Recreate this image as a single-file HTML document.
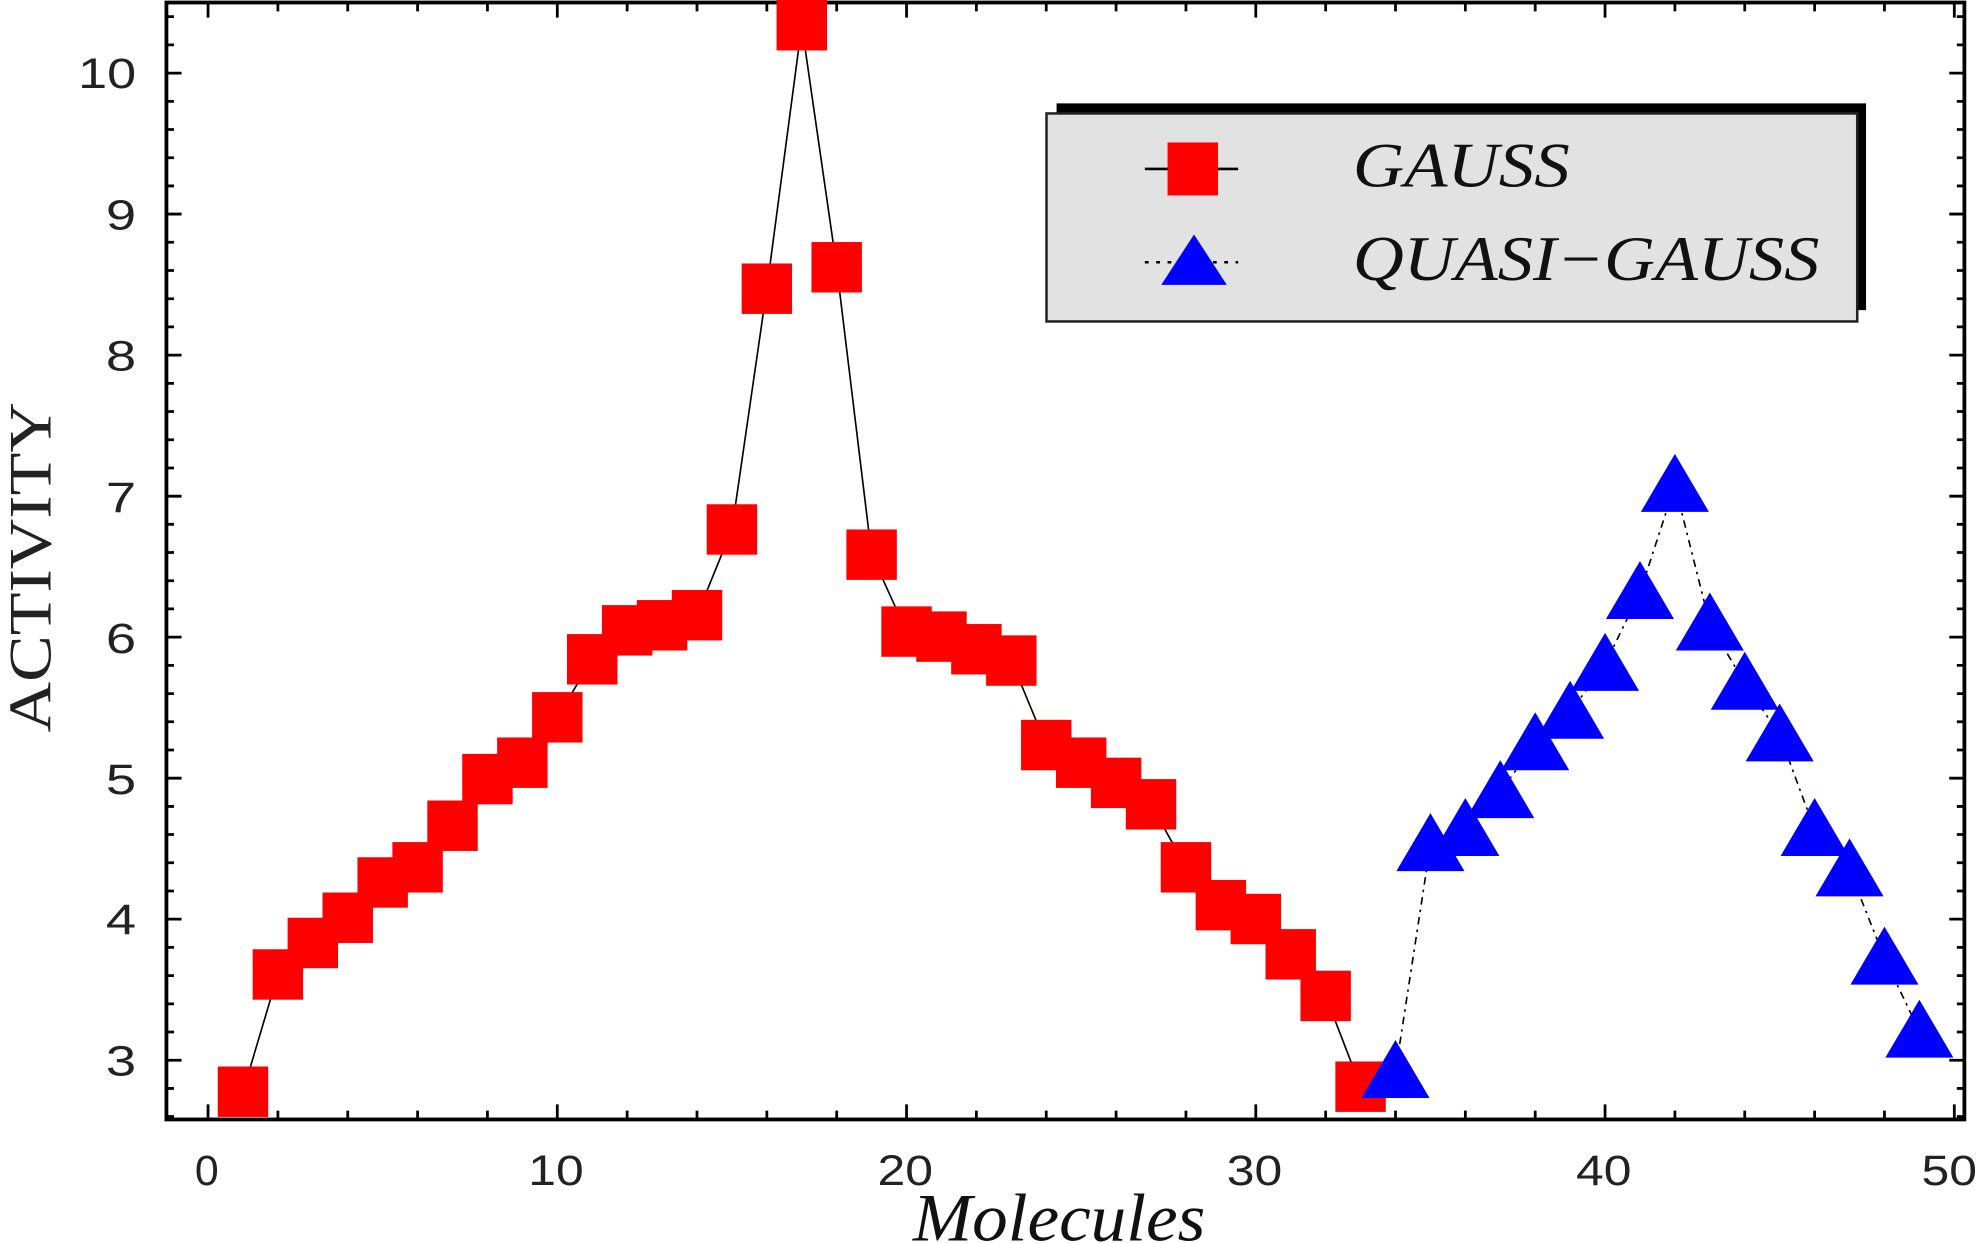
<!DOCTYPE html>
<html><head><meta charset="utf-8"><style>
html,body{margin:0;padding:0;background:#fff;}
svg{display:block}
</style></head><body>
<svg id="s" width="1977" height="1243" viewBox="0 0 1568 986" preserveAspectRatio="none" xmlns="http://www.w3.org/2000/svg">
<g id="ticks" stroke="#000" stroke-width="2.2"></g>
<rect x="132" y="2" width="1426" height="886" fill="none" stroke="#000" stroke-width="3"/>
<g font-family="Liberation Sans, sans-serif" font-size="34" fill="#222" text-anchor="end">
<text x="108" y="853" textLength="24" lengthAdjust="spacingAndGlyphs">3</text>
<text x="108" y="741" textLength="24" lengthAdjust="spacingAndGlyphs">4</text>
<text x="108" y="630" textLength="24" lengthAdjust="spacingAndGlyphs">5</text>
<text x="108" y="518" textLength="24" lengthAdjust="spacingAndGlyphs">6</text>
<text x="108" y="406" textLength="24" lengthAdjust="spacingAndGlyphs">7</text>
<text x="108" y="294" textLength="24" lengthAdjust="spacingAndGlyphs">8</text>
<text x="108" y="182" textLength="24" lengthAdjust="spacingAndGlyphs">9</text>
<text x="108" y="70" textLength="46" lengthAdjust="spacingAndGlyphs">10</text>
</g>
<g font-family="Liberation Sans, sans-serif" font-size="34" fill="#222" text-anchor="middle">
<text x="164" y="940">0</text>
<text x="441" y="940" textLength="44" lengthAdjust="spacingAndGlyphs">10</text>
<text x="718" y="940" textLength="44" lengthAdjust="spacingAndGlyphs">20</text>
<text x="995" y="940" textLength="44" lengthAdjust="spacingAndGlyphs">30</text>
<text x="1272" y="940" textLength="44" lengthAdjust="spacingAndGlyphs">40</text>
<text x="1546" y="940" textLength="44" lengthAdjust="spacingAndGlyphs">50</text>
</g>
<text x="840" y="984" text-anchor="middle" font-family="Liberation Serif, serif" font-style="italic" font-size="54" fill="#111" textLength="232" lengthAdjust="spacingAndGlyphs">Molecules</text>
<text transform="translate(40,450) rotate(-90)" text-anchor="middle" font-family="Liberation Serif, serif" font-size="48" fill="#222" textLength="262" lengthAdjust="spacingAndGlyphs">ACTIVITY</text>
<g id="lines" fill="none" stroke="#000" stroke-width="1.3"></g>
<g id="marks"></g>
<rect x="838" y="82" width="642" height="164" fill="#000"/>
<rect x="830" y="90" width="643" height="165" fill="#e2e2e2" stroke="#222" stroke-width="2"/>
<line x1="908" y1="134" x2="982" y2="134" stroke="#000" stroke-width="2"/>
<rect x="926" y="113" width="40" height="42" fill="#ff0000"/>
<line x1="908" y1="208" x2="982" y2="208" stroke="#000" stroke-width="2" stroke-dasharray="3,6"/>
<path d="M947,186 L973,226 L921,226 Z" fill="#0000ff"/>
<g font-family="Liberation Serif, serif" font-style="italic" font-size="50" fill="#111">
<text x="1073" y="148" textLength="172" lengthAdjust="spacingAndGlyphs">GAUSS</text>
<text x="1073" y="222" textLength="370" lengthAdjust="spacingAndGlyphs">QUASI−GAUSS</text>
</g>
</svg>
<script>
var NS="http://www.w3.org/2000/svg";
function X(i){return 165+27.7*i;}
var g=[866,773,748,728,700,688,655,618,605,569,523,500,496,488,420,229,20,212,440,501,505,515,524,591,605,621,638,688,718,729,757,790,862];
var q=[850,670,658,628,590,565,527,470,385,495,542,583,658,690,760,818];
var t=document.getElementById('ticks'),d="";
for(var v=2.6;v<=10.45;v+=0.2){var y=841-(v-3)*111.86;var maj=Math.abs(v-Math.round(v))<0.01;var L=maj?12:6;d+="M132,"+y.toFixed(1)+"h"+L+"M1558,"+y.toFixed(1)+"h-"+L;}
for(var u=0;u<=50;u+=2){var x=X(u);var maj=u%10==0;var L=maj?12:7;d+="M"+x.toFixed(1)+",888v-"+L+"M"+x.toFixed(1)+",2v"+L;}
var p=document.createElementNS(NS,'path');p.setAttribute('d',d);t.appendChild(p);
var ln=document.getElementById('lines');
var a="";g.forEach(function(y,i){a+=(i?"L":"M")+X(i+1).toFixed(1)+","+y;});
var p1=document.createElementNS(NS,'path');p1.setAttribute('d',a);ln.appendChild(p1);
var b="";q.forEach(function(y,i){b+=(i?"L":"M")+X(i+34).toFixed(1)+","+y;});
var p2=document.createElementNS(NS,'path');p2.setAttribute('d',b);p2.setAttribute('stroke-dasharray','2,4,6,4');ln.appendChild(p2);
var m=document.getElementById('marks');
g.forEach(function(y,i){var r=document.createElementNS(NS,'rect');r.setAttribute('x',X(i+1)-20);r.setAttribute('y',y-20);r.setAttribute('width',40);r.setAttribute('height',40);r.setAttribute('fill','#ff0000');m.appendChild(r);});
q.forEach(function(y,i){var x=X(i+34);var r=document.createElementNS(NS,'path');r.setAttribute('d',"M"+x+","+(y-25)+"L"+(x+27)+","+(y+21)+"L"+(x-27)+","+(y+21)+"Z");r.setAttribute('fill','#0000ff');m.appendChild(r);});
</script>
</body></html>
